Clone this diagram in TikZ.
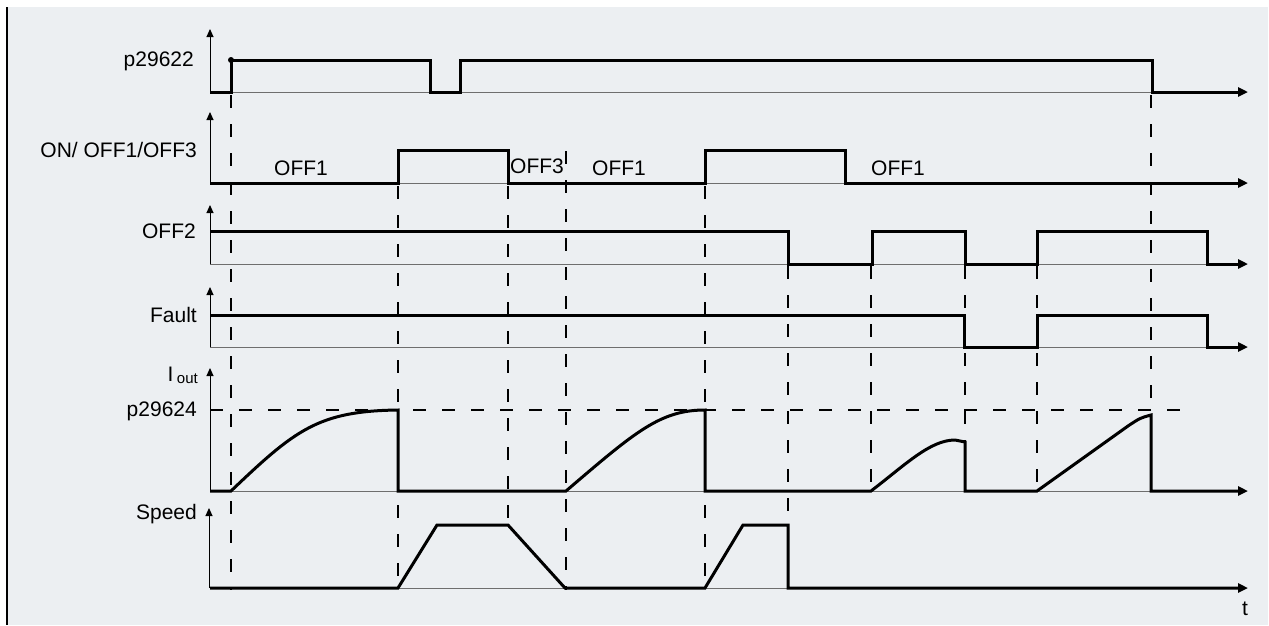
\documentclass[tikz,border=0pt]{standalone}
\usepackage{fontspec}
\setmainfont{Liberation Sans}
\usetikzlibrary{arrows.meta}
\definecolor{bgc}{RGB}{236,239,242}
\definecolor{basec}{RGB}{110,110,110}
\begin{document}
\begin{tikzpicture}[x=1pt,y=-1pt,
  sig/.style={line width=3pt, line join=miter, line cap=butt},
  sigarrow/.style={sig, -{Triangle[length=10pt,width=9pt]}},
  baseln/.style={line width=1pt, draw=basec},
  axisln/.style={line width=1pt, -{Triangle[length=8pt,width=7pt]}},
  vdash/.style={line width=1.8pt, dash pattern=on 13pt off 16pt},
  lbl/.style={font=\fontsize{21}{25}\selectfont, inner sep=0pt, anchor=base east},
  siglbl/.style={font=\fontsize{21}{25}\selectfont, inner sep=0pt, anchor=base}
]
\useasboundingbox (0,0) rectangle (1269,625);
\fill[bgc] (8,7) rectangle (1268,625);
\draw[line width=2pt] (7,7) -- (7,625);

% vertical dashed guide lines
\draw[vdash] (231,95) -- (231,590);
\draw[vdash] (398,186) -- (398,590);
\draw[vdash] (508,186) -- (508,525);
\draw[vdash] (566,151) -- (566,590);
\draw[vdash] (705,186) -- (705,590);
\draw[vdash] (788,266) -- (788,525);
\draw[vdash] (871,266) -- (871,491);
\draw[vdash] (965,266) -- (965,491);
\draw[vdash] (1037,266) -- (1037,491);
\draw[vdash] (1151,95) -- (1151,415);
% p29624 level
\draw[vdash] (210,410) -- (1195,410);

% thin baselines
\foreach \yb in {92,183,264,347,491,588}
  \draw[baseln] (210,\yb) -- (1240,\yb);

% vertical axes
\draw[axisln] (210,92) -- (210,29);
\draw[axisln] (210,183) -- (210,112);
\draw[axisln] (210,264) -- (210,205);
\draw[axisln] (210,347) -- (210,287);
\draw[axisln] (210,491) -- (210,368);
\draw[axisln] (209,588) -- (209,508);

% signals
\draw[sigarrow] (210,92) -- (231,92) -- (231,60) -- (430,60) -- (430,92) -- (460,92) -- (460,60) -- (1152,60) -- (1152,92) -- (1248,92);
\fill (231,60) circle (3pt);
\draw[sigarrow] (210,183) -- (398,183) -- (398,150) -- (508,150) -- (508,183) -- (705,183) -- (705,150) -- (845,150) -- (845,183) -- (1248,183);
\draw[sigarrow] (210,231) -- (788,231) -- (788,264) -- (872,264) -- (872,231) -- (965,231) -- (965,264) -- (1037,264) -- (1037,231) -- (1207,231) -- (1207,264) -- (1248,264);
\draw[sigarrow] (210,315) -- (964,315) -- (964,347) -- (1037,347) -- (1037,315) -- (1207,315) -- (1207,347) -- (1248,347);
\draw[sigarrow] (210,491) -- (231,491) .. controls (295,430) and (318,411) .. (398,410) -- (398,491) -- (566,491) .. controls (635,432) and (660,410) .. (705,410) -- (705,491) -- (871,491) .. controls (905,465) and (930,440) .. (955,440) -- (965,442) -- (965,491) -- (1037,491) -- (1128,426) .. controls (1140,418) .. (1151,415) -- (1151,491) -- (1248,491);
\draw[sigarrow] (210,588) -- (398,588) -- (437,525) -- (508,525) -- (565,588) -- (705,588) -- (743,525) -- (788,525) -- (788,588) -- (1248,588);

% row labels
\node[lbl] (lp1) at (194,66) {p29622};
\node[lbl] (lon) at (197,157) {ON/ OFF1/OFF3};
\node[lbl] (loff2) at (196,238) {OFF2};
\node[lbl] (lfault) at (197,322) {Fault};
\node[lbl] (liout) at (198,381) {I\,\raisebox{-2pt}{\fontsize{15}{18}\selectfont out}};
\node[lbl] (lp2) at (197,416) {p29624};
\node[lbl] (lspeed) at (197,519) {Speed};
\node[siglbl] (lt) at (1245,615) {t};

% signal labels
\node[siglbl] (o1) at (301,175) {OFF1};
\node[siglbl] (o3) at (537,173) {OFF3};
\node[siglbl] (o1b) at (619,175) {OFF1};
\node[siglbl] (o1c) at (898,175) {OFF1};
\end{tikzpicture}
\end{document}
